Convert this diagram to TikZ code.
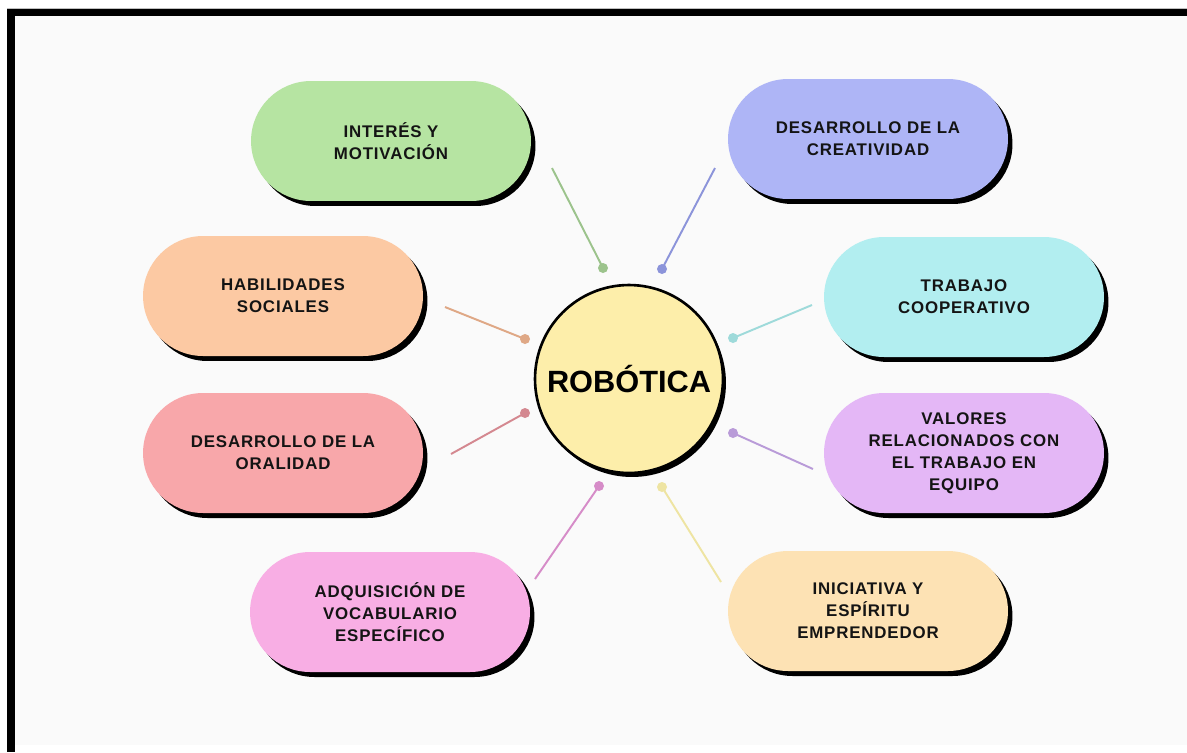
\documentclass[tikz,border=0pt]{standalone}
\usepackage{fontspec}
\setmainfont{Liberation Sans}
\newfontfamily\pillfont[LetterSpace=5]{Liberation Sans}
\usetikzlibrary{shapes.misc,shadows}
\definecolor{bgin}{HTML}{FAFAFA}
\definecolor{pgreen}{HTML}{B6E4A2}
\definecolor{pblue}{HTML}{AEB5F6}
\definecolor{porange}{HTML}{FCC9A3}
\definecolor{pcyan}{HTML}{B2EEF0}
\definecolor{pred}{HTML}{F8A7AA}
\definecolor{ppurple}{HTML}{E4B7F6}
\definecolor{ppink}{HTML}{F8AEE4}
\definecolor{ppeach}{HTML}{FDE2B4}
\definecolor{pyellow}{HTML}{FDEEAA}
\definecolor{lgreen}{HTML}{9CC38C}
\definecolor{lblue}{HTML}{8C94DA}
\definecolor{lorange}{HTML}{DFA886}
\definecolor{lcyan}{HTML}{9EDADA}
\definecolor{lred}{HTML}{D48890}
\definecolor{lpurple}{HTML}{B99BD8}
\definecolor{lpink}{HTML}{D68CC8}
\definecolor{lpeach}{HTML}{EEE4A2}
\tikzset{
  pill/.style={rounded rectangle, minimum width=5.6cm, minimum height=2.4cm,
    inner sep=0pt, align=center, text=black!92,
    font=\pillfont\bfseries\fontsize{9.6}{12.5}\selectfont,
    general shadow={shadow xshift=0.09cm, shadow yshift=-0.1cm, fill=black}},
  hub/.style={circle, minimum size=3.76cm, inner sep=0pt, fill=pyellow,
    draw=black, line width=1.5pt,
    font=\bfseries\fontsize{17.5}{20}\selectfont,
    general shadow={shadow xshift=0.06cm, shadow yshift=-0.08cm, fill=black}},
  knob/.style={circle, minimum size=0.2cm, inner sep=0pt},
  conn/.style={line width=1.1pt}
}
\begin{document}
\begin{tikzpicture}[x=0.02cm,y=-0.02cm]
\useasboundingbox (0,0) rectangle (1187,752);
\fill[white] (0,0) rectangle (1187,752);
\fill[bgin] (15,16) rectangle (1187,745);
\fill[black] (7,8) rectangle (1187,16);
\fill[black] (7,8) rectangle (15,752);
\draw[black!25, line width=0.3pt] (7,8) -- (1187,8);

% hub
\node[hub] (hub) at (629,379) {ROBÓTICA};

% pills
\node[pill, fill=pgreen] (p1) at (391,141) {INTERÉS Y\\MOTIVACIÓN};
\node[pill, fill=pblue] (p2) at (868,139) {DESARROLLO DE LA\\CREATIVIDAD};
\node[pill, fill=porange] (p3) at (283,296) {HABILIDADES\\SOCIALES};
\node[pill, fill=pcyan] (p4) at (964,297) {TRABAJO\\COOPERATIVO};
\node[pill, fill=pred] (p5) at (283,453) {DESARROLLO DE LA\\ORALIDAD};
\node[pill, fill=ppurple] (p6) at (964,453) {VALORES\\RELACIONADOS CON\\EL TRABAJO EN\\EQUIPO};
\node[pill, fill=ppink] (p7) at (390,612) {ADQUISICIÓN DE\\VOCABULARIO\\ESPECÍFICO};
\node[pill, fill=ppeach] (p8) at (868,611) {INICIATIVA Y\\ESPÍRITU\\EMPRENDEDOR};

% connectors
\coordinate (s1) at (552,168);
\coordinate (s2) at (715,168);
\coordinate (s3) at (445,307);
\coordinate (s4) at (812,305);
\coordinate (s5) at (451,454);
\coordinate (s6) at (813,469);
\coordinate (s7) at (535,579);
\coordinate (s8) at (721,582);
\node[knob, fill=lgreen] (k1) at (603,268) {};
\node[knob, fill=lblue] (k2) at (662,269) {};
\node[knob, fill=lorange] (k3) at (525,339) {};
\node[knob, fill=lcyan] (k4) at (733,338) {};
\node[knob, fill=lred] (k5) at (525,413) {};
\node[knob, fill=lpurple] (k6) at (733,433) {};
\node[knob, fill=lpink] (k7) at (599,486) {};
\node[knob, fill=lpeach] (k8) at (662,487) {};
\draw[conn, lgreen] (s1) -- (k1.center);
\draw[conn, lblue] (s2) -- (k2.center);
\draw[conn, lorange] (s3) -- (k3.center);
\draw[conn, lcyan] (s4) -- (k4.center);
\draw[conn, lred] (s5) -- (k5.center);
\draw[conn, lpurple] (s6) -- (k6.center);
\draw[conn, lpink] (s7) -- (k7.center);
\draw[conn, lpeach] (s8) -- (k8.center);
\end{tikzpicture}
\end{document}
